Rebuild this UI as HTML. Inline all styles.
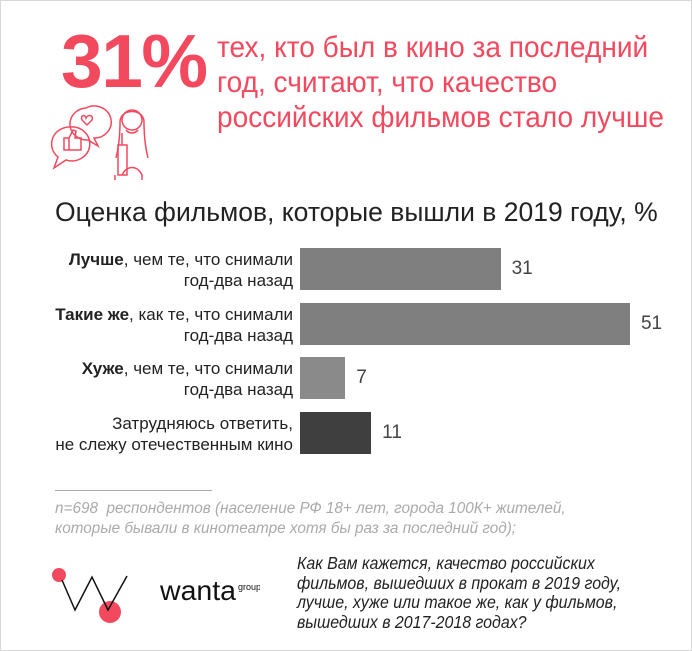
<!DOCTYPE html>
<html><head><meta charset="utf-8">
<style>
body{margin:0;width:692px;height:651px;background:#fff;overflow:hidden;position:relative;font-family:"Liberation Sans",sans-serif;}
.frame{position:absolute;left:0;top:0;width:690px;height:649px;border:1px solid #d8d8d8;}
.abs{position:absolute;white-space:nowrap;}
.lbl{position:absolute;right:399px;text-align:right;font-size:17px;line-height:21px;color:#222;}
.val{position:absolute;font-size:19px;color:#444;}
</style></head><body>
<div class="frame"></div>
<div class="abs" style="left:61px;top:18px;font-weight:bold;font-size:75px;color:#f2495e;letter-spacing:-1.5px;">31%</div>
<div class="abs" style="left:217px;top:30px;font-size:30px;line-height:35px;color:#f2495e;transform:scaleX(0.935);transform-origin:left top;">тех, кто был в кино за последний<br>год, считают, что качество<br>российских фильмов стало лучше</div>
<svg class="abs" style="left:50px;top:100px" width="100" height="82" viewBox="0 0 100 82" fill="none" stroke="#f2495e" stroke-width="1.5">
<path d="M36 8a17 16 0 1 1 8 30l4 8-10-6a17 16 0 0 1-2-32z"/><path d="M36 18c2-4 8-3 6 2l-5 5-5-5c-2-5 3-6 4-2z"/>
<path d="M20 27a18 17 0 1 1-4 33l-12 8 4-11a18 17 0 0 1 12-30z"/><path d="M14 38h5v12h-5zM19 38l4-8 3 1-1 7h6v12h-12"/>
<circle cx="82" cy="20" r="10"/><path d="M70 22c0-14 24-14 24 0 0 18 2 28 4 36M70 22c0 18-2 28-4 36M72 75c5-10 15-10 20 0v5M65 75v5M76 30c3 4 9 4 12 0"/>
<rect x="68" y="45" width="9" height="30"/><path d="M72 45v-12"/>
</svg>
<div class="abs" style="left:55px;top:197px;font-size:26.5px;color:#222;transform:scaleX(1.0);transform-origin:left top;">Оценка фильмов, которые вышли в 2019 году, %</div>
<div id="chart"></div>
<div class="abs" style="left:55px;top:490px;width:157px;height:1px;background:#aaa"></div>
<div class="abs" style="left:55px;top:499px;font-size:15.3px;line-height:19.5px;font-style:italic;color:#aaa;">n=698&nbsp; респондентов (население РФ 18+ лет, города 100К+ жителей,<br>которые бывали в кинотеатре хотя бы раз за последний год);</div>
<svg class="abs" style="left:0;top:550px" width="260" height="80">
<circle cx="59" cy="25" r="7" fill="#f2495e"/><circle cx="110" cy="62" r="11" fill="#f2495e"/>
<path d="M62 30 L75 60 L92 27 L108 60 L127 26" stroke="#111" stroke-width="1.5" fill="none"/>
<text x="160" y="50" font-family="Liberation Sans" font-size="28" fill="#111" textLength="76" lengthAdjust="spacingAndGlyphs">wanta</text><text x="238" y="40" font-family="Liberation Sans" font-size="9" fill="#111">group</text>
</svg>
<div class="abs" style="left:297px;top:554px;font-size:17.5px;line-height:19.5px;font-style:italic;color:#222;transform:scaleX(0.91);transform-origin:left top;">Как Вам кажется, качество российских<br>фильмов, вышедших в прокат в 2019 году,<br>лучше, хуже или такое же, как у фильмов,<br>вышедших в 2017-2018 годах?</div>
<script>
const categories=["<b>Лучше</b>, чем те, что снимали<br>год-два назад","<b>Такие же</b>, как те, что снимали<br>год-два назад","<b>Хуже</b>, чем те, что снимали<br>год-два назад","Затрудняюсь ответить,<br>не слежу отечественным кино"];
const values=[31,51,7,11];
const colors=["#7f7f7f","#7f7f7f","#8a8a8a","#3f3f3f"];
const x0=300,pxPer=6.47,top0=248,step=54.5,bh=42;
const xs=v=>v*pxPer;
const chart=document.getElementById('chart');
values.forEach((v,i)=>{
 const y=top0+i*step;
 const b=document.createElement('div');
 
 
 b.style.cssText=`position:absolute;left:${x0}px;top:${y}px;width:${xs(v)}px;height:${bh}px;background:${colors[i]}`;
 chart.appendChild(b);
 const t=document.createElement('div');
 
 
 t.className='val';
 t.style.left=(x0+xs(v)+11)+'px';t.style.top=(y+10)+'px';
 t.textContent=v;chart.appendChild(t);
 const l=document.createElement('div');
 
 
 l.className='lbl';l.style.top=(y+1)+'px';
 l.innerHTML=categories[i];chart.appendChild(l);
});
</script>
</body></html>
